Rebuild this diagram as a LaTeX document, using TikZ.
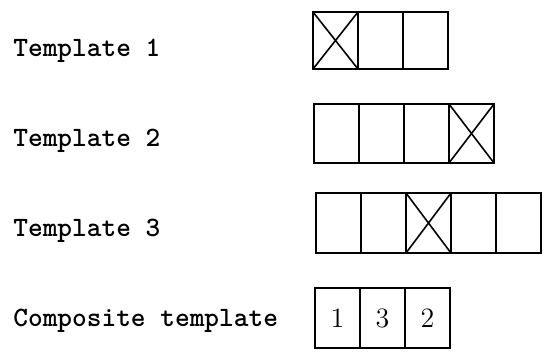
\documentclass[tikz,border=0pt]{standalone}
\usepackage{tikz}
\usetikzlibrary{positioning}
\tikzset{
	cell/.style={draw, line width=1pt, minimum width=22.5pt, minimum height=29.5pt, inner sep=0pt, outer sep=0pt},
	lbl/.style={anchor=base west, inner sep=0pt, font=\ttfamily\bfseries\fontsize{14}{16}\selectfont},
	num/.style={font=\rmfamily\fontsize{14}{16}\selectfont},
	xline/.style={line width=0.8pt},
}
\begin{document}
\begin{tikzpicture}
	\useasboundingbox (0,0) rectangle (274pt,-180pt);
	% labels
	\node[lbl] (l1) at (6.5pt,-28.35pt) {Template 1};
	\node[lbl] (l2) at (6.5pt,-73.35pt) {Template 2};
	\node[lbl] (l3) at (6.5pt,-118.35pt) {Template 3};
	\node[lbl] (l4) at (6.5pt,-163.35pt) {Composite template};
	% template 1
	\node[cell, minimum height=28.5pt] (t1a) at (167.75pt,-20.25pt) {};
	\node[cell, minimum height=28.5pt, right=0cm of t1a] (t1b) {};
	\node[cell, minimum height=28.5pt, right=0cm of t1b] (t1c) {};
	\draw[xline] (t1a.north west) -- (t1a.south east) (t1a.south west) -- (t1a.north east);
	% template 2
	\node[cell] (t2a) at (168.25pt,-66.75pt) {};
	\node[cell, right=0cm of t2a] (t2b) {};
	\node[cell, right=0cm of t2b] (t2c) {};
	\node[cell, right=0cm of t2c] (t2d) {};
	\draw[xline] (t2d.north west) -- (t2d.south east) (t2d.south west) -- (t2d.north east);
	% template 3
	\node[cell, minimum height=30pt] (t3a) at (169.25pt,-111.5pt) {};
	\node[cell, minimum height=30pt, right=0cm of t3a] (t3b) {};
	\node[cell, minimum height=30pt, right=0cm of t3b] (t3c) {};
	\node[cell, minimum height=30pt, right=0cm of t3c] (t3d) {};
	\node[cell, minimum height=30pt, right=0cm of t3d] (t3e) {};
	\draw[xline] (t3c.north west) -- (t3c.south east) (t3c.south west) -- (t3c.north east);
	% composite
	\node[cell, num, minimum height=30pt] (ca) at (168.75pt,-159pt) {1};
	\node[cell, num, minimum height=30pt, right=0cm of ca] (cb) {3};
	\node[cell, num, minimum height=30pt, right=0cm of cb] (cc) {2};
\end{tikzpicture}
\end{document}
